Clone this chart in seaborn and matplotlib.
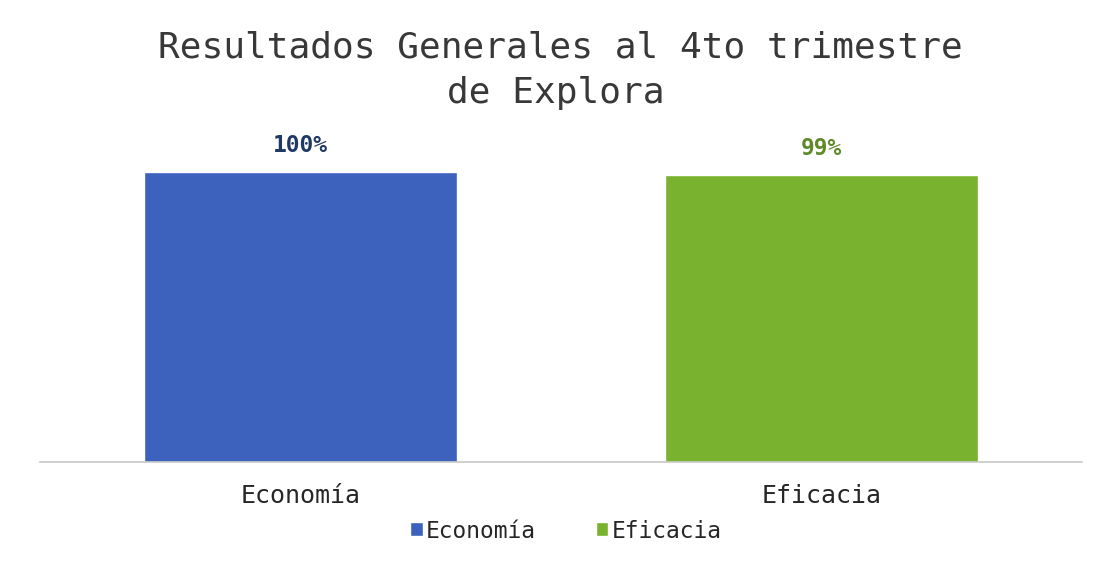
# Resultados Generales al 4to trimestre de Explora - bar chart
import seaborn as sns
import pandas as pd
import matplotlib.pyplot as plt

categorias = ["Economía", "Eficacia"]
valores = [100, 99]
colores = ["#3C62BE", "#78B22E"]
colores_etiqueta = ["#1F3864", "#5E8A2A"]

df = pd.DataFrame({"categoria": categorias, "valor": valores})

sns.set_theme(style="white")
plt.rcParams['font.family'] = ['DejaVu Sans Mono', 'Liberation Mono']

fig = plt.figure(figsize=(11.01, 5.65), dpi=100)
ax = fig.add_axes([40/1101, 103/565, 1042/1101, 348/565])

sns.barplot(data=df, x="categoria", y="valor", hue="categoria",
            palette=colores, width=0.6, saturation=1, ax=ax, legend=True)

ax.set_ylim(0, 120)
ax.set_xlim(-0.5, 1.5)

# data labels
for cont, col in zip(ax.containers, colores_etiqueta):
    ax.bar_label(cont, labels=[f"{v:.0f}%" for v in cont.datavalues],
                 padding=11, fontsize=16.5, fontweight='bold', color=col)

# axes look
for s in ["top", "right", "left"]:
    ax.spines[s].set_visible(False)
ax.spines["bottom"].set_color("#C8C8C8")
ax.spines["bottom"].set_linewidth(1.2)
ax.set_yticks([])
ax.set_xlabel("")
ax.set_ylabel("")
ax.set_xticks([0, 1])
ax.set_xticklabels(categorias, fontsize=18, color="#262626")
ax.tick_params(axis="x", which="major", length=0, pad=16)
ax.set_xticks([-0.5, 0.5, 1.5], minor=True)
ax.tick_params(axis="x", which="minor", length=4, color="#C8C8C8", width=1.2)

# legend
handles, labels = ax.get_legend_handles_labels()
ax.get_legend().remove()
fig.legend(handles, labels, loc="center", bbox_to_anchor=(566/1101, 1 - 531/565),
           ncol=2, frameon=False, handlelength=0.55, handleheight=0.55,
           handletextpad=0.15, columnspacing=2.6,
           prop={'size': 16.5}, labelcolor="#262626")

# title
fig.text(560/1101, 1 - 58/565, "Resultados Generales al 4to trimestre",
         ha="center", va="baseline", fontsize=26, color="#383838")
fig.text(556/1101, 1 - 103/565, "de Explora",
         ha="center", va="baseline", fontsize=26, color="#383838")

plt.savefig("out.png", dpi=100)
